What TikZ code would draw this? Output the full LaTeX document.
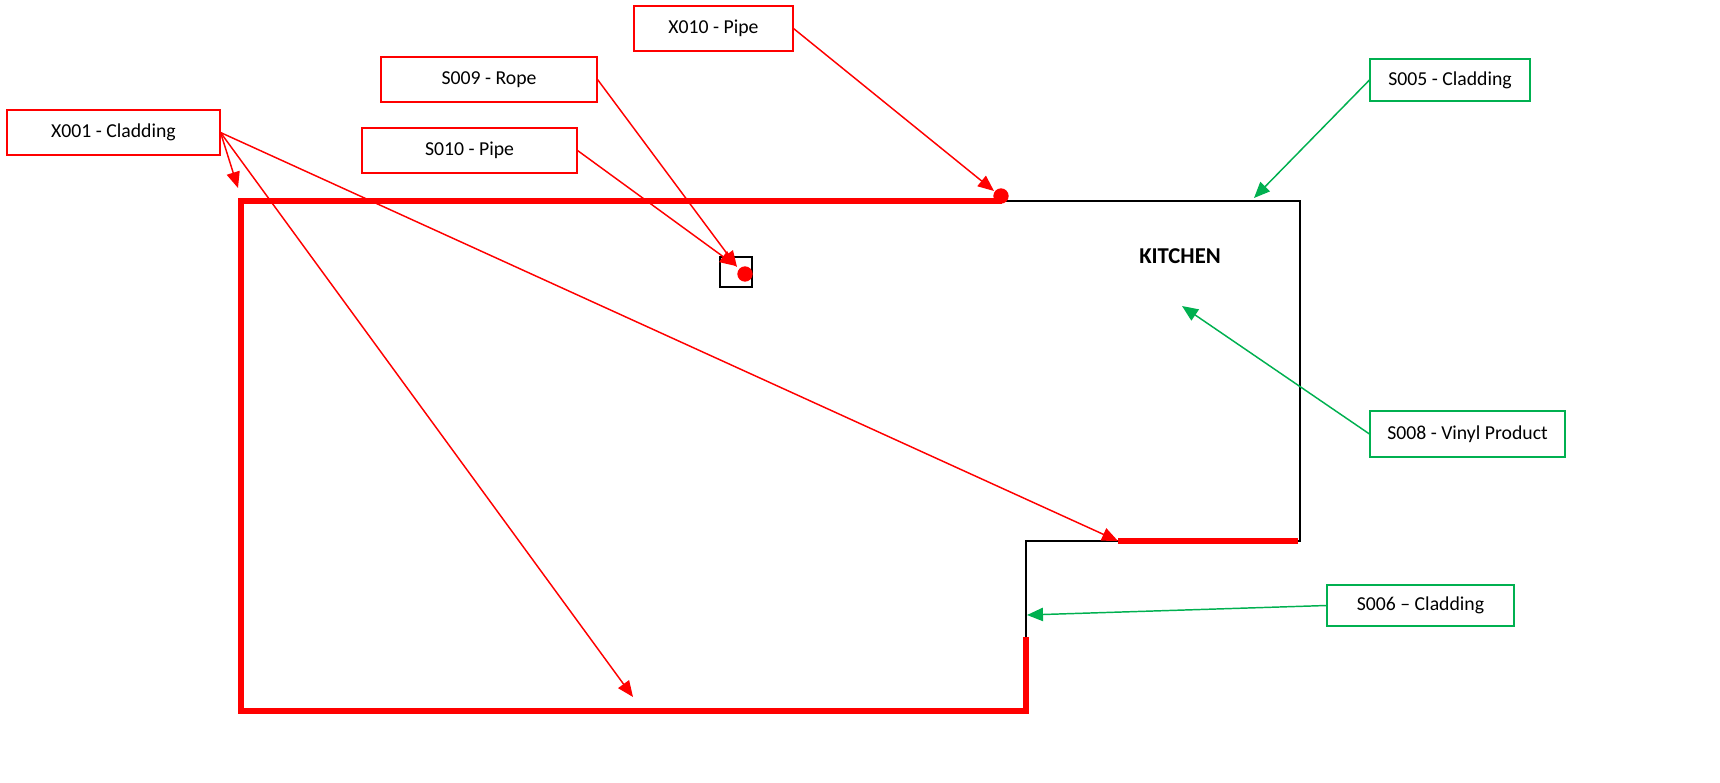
\documentclass[tikz,border=0pt]{standalone}
\usepackage{fontspec}
\setmainfont{Carlito}
\usetikzlibrary{arrows.meta}
\definecolor{cgreen}{RGB}{0,176,80}
\definecolor{bgreen}{RGB}{0,176,80}
\tikzset{
  lbl/.style={draw, line width=0.8pt, inner sep=0pt, anchor=center, font=\fontsize{14.8pt}{16pt}\selectfont, text=black},
  redbox/.style={lbl, draw=red},
  greenbox/.style={lbl, draw=bgreen},
  redarrow/.style={draw=red, line width=1.1pt, -{Triangle[length=12pt,width=10pt]}, fill=red},
  greenarrow/.style={draw=cgreen, line width=1.1pt, -{Triangle[length=12pt,width=10pt]}, fill=cgreen},
  thickred/.style={draw=red, line width=3.9pt, line join=miter},
  thinblack/.style={draw=black, line width=1.6pt, line join=miter},
  dot/.style={circle, fill=red, inner sep=0pt, minimum size=11.5pt},
}
\begin{document}
\begin{tikzpicture}[x=0.75pt, y=-0.75pt]
\useasboundingbox (0,0) rectangle (1720,782);
% floor plan
\draw[thinblack] (1000,201) -- (1300,201) -- (1300,541) -- (1026,541) -- (1026,640);
\draw[thickred] (1026,637) -- (1026,711) -- (241,711) -- (241,201) -- (1002,201);
\draw[thickred] (1118,541) -- (1298,541);
\draw[black, line width=1.6pt] (720,257) rectangle (752,287);
\node[dot] (dot1) at (1001,196) {};
\node[dot] (dot2) at (745,274) {};
\node[font=\fontsize{17pt}{19pt}\selectfont\bfseries] (kitchen) at (1180,256) {KITCHEN};
% labels
\node[redbox, minimum width={213*0.75pt}, minimum height={45*0.75pt}] (x001) at (113.5,132.5) {X001 - Cladding};
\node[redbox, minimum width={216*0.75pt}, minimum height={45*0.75pt}] (s009) at (489,79.5) {S009 - Rope};
\node[redbox, minimum width={215*0.75pt}, minimum height={45*0.75pt}] (s010) at (469.5,150.5) {S010 - Pipe};
\node[redbox, minimum width={159*0.75pt}, minimum height={45*0.75pt}] (x010) at (713.5,28.5) {X010 - Pipe};
\node[greenbox, minimum width={160*0.75pt}, minimum height={42*0.75pt}] (s005) at (1450,80) {S005 - Cladding};
\node[greenbox, minimum width={195*0.75pt}, minimum height={46*0.75pt}] (s008) at (1467.5,434) {S008 - Vinyl Product};
\node[greenbox, minimum width={187*0.75pt}, minimum height={41*0.75pt}] (s006) at (1420.5,605.5) {S006 – Cladding};
% targets
\coordinate (t1) at (238,188);
\coordinate (t2) at (633,697);
\coordinate (t3) at (1118,541);
\coordinate (t4) at (737,267);
\coordinate (t5) at (736,266);
\coordinate (t6) at (994,191);
\coordinate (t7) at (1254,198);
\coordinate (t8) at (1182,306);
\coordinate (t9) at (1027,615);
% connectors
\draw[redarrow] (x001.east) -- (t1);
\draw[redarrow] (x001.east) -- (t2);
\draw[redarrow] (x001.east) -- (t3);
\draw[redarrow] (s009.east) -- (t4);
\draw[redarrow] (s010.east) -- (t5);
\draw[redarrow] (x010.east) -- (t6);
\draw[greenarrow] (s005.west) -- (t7);
\draw[greenarrow] (s008.west) -- (t8);
\draw[greenarrow] (s006.west) -- (t9);
\end{tikzpicture}
\end{document}
